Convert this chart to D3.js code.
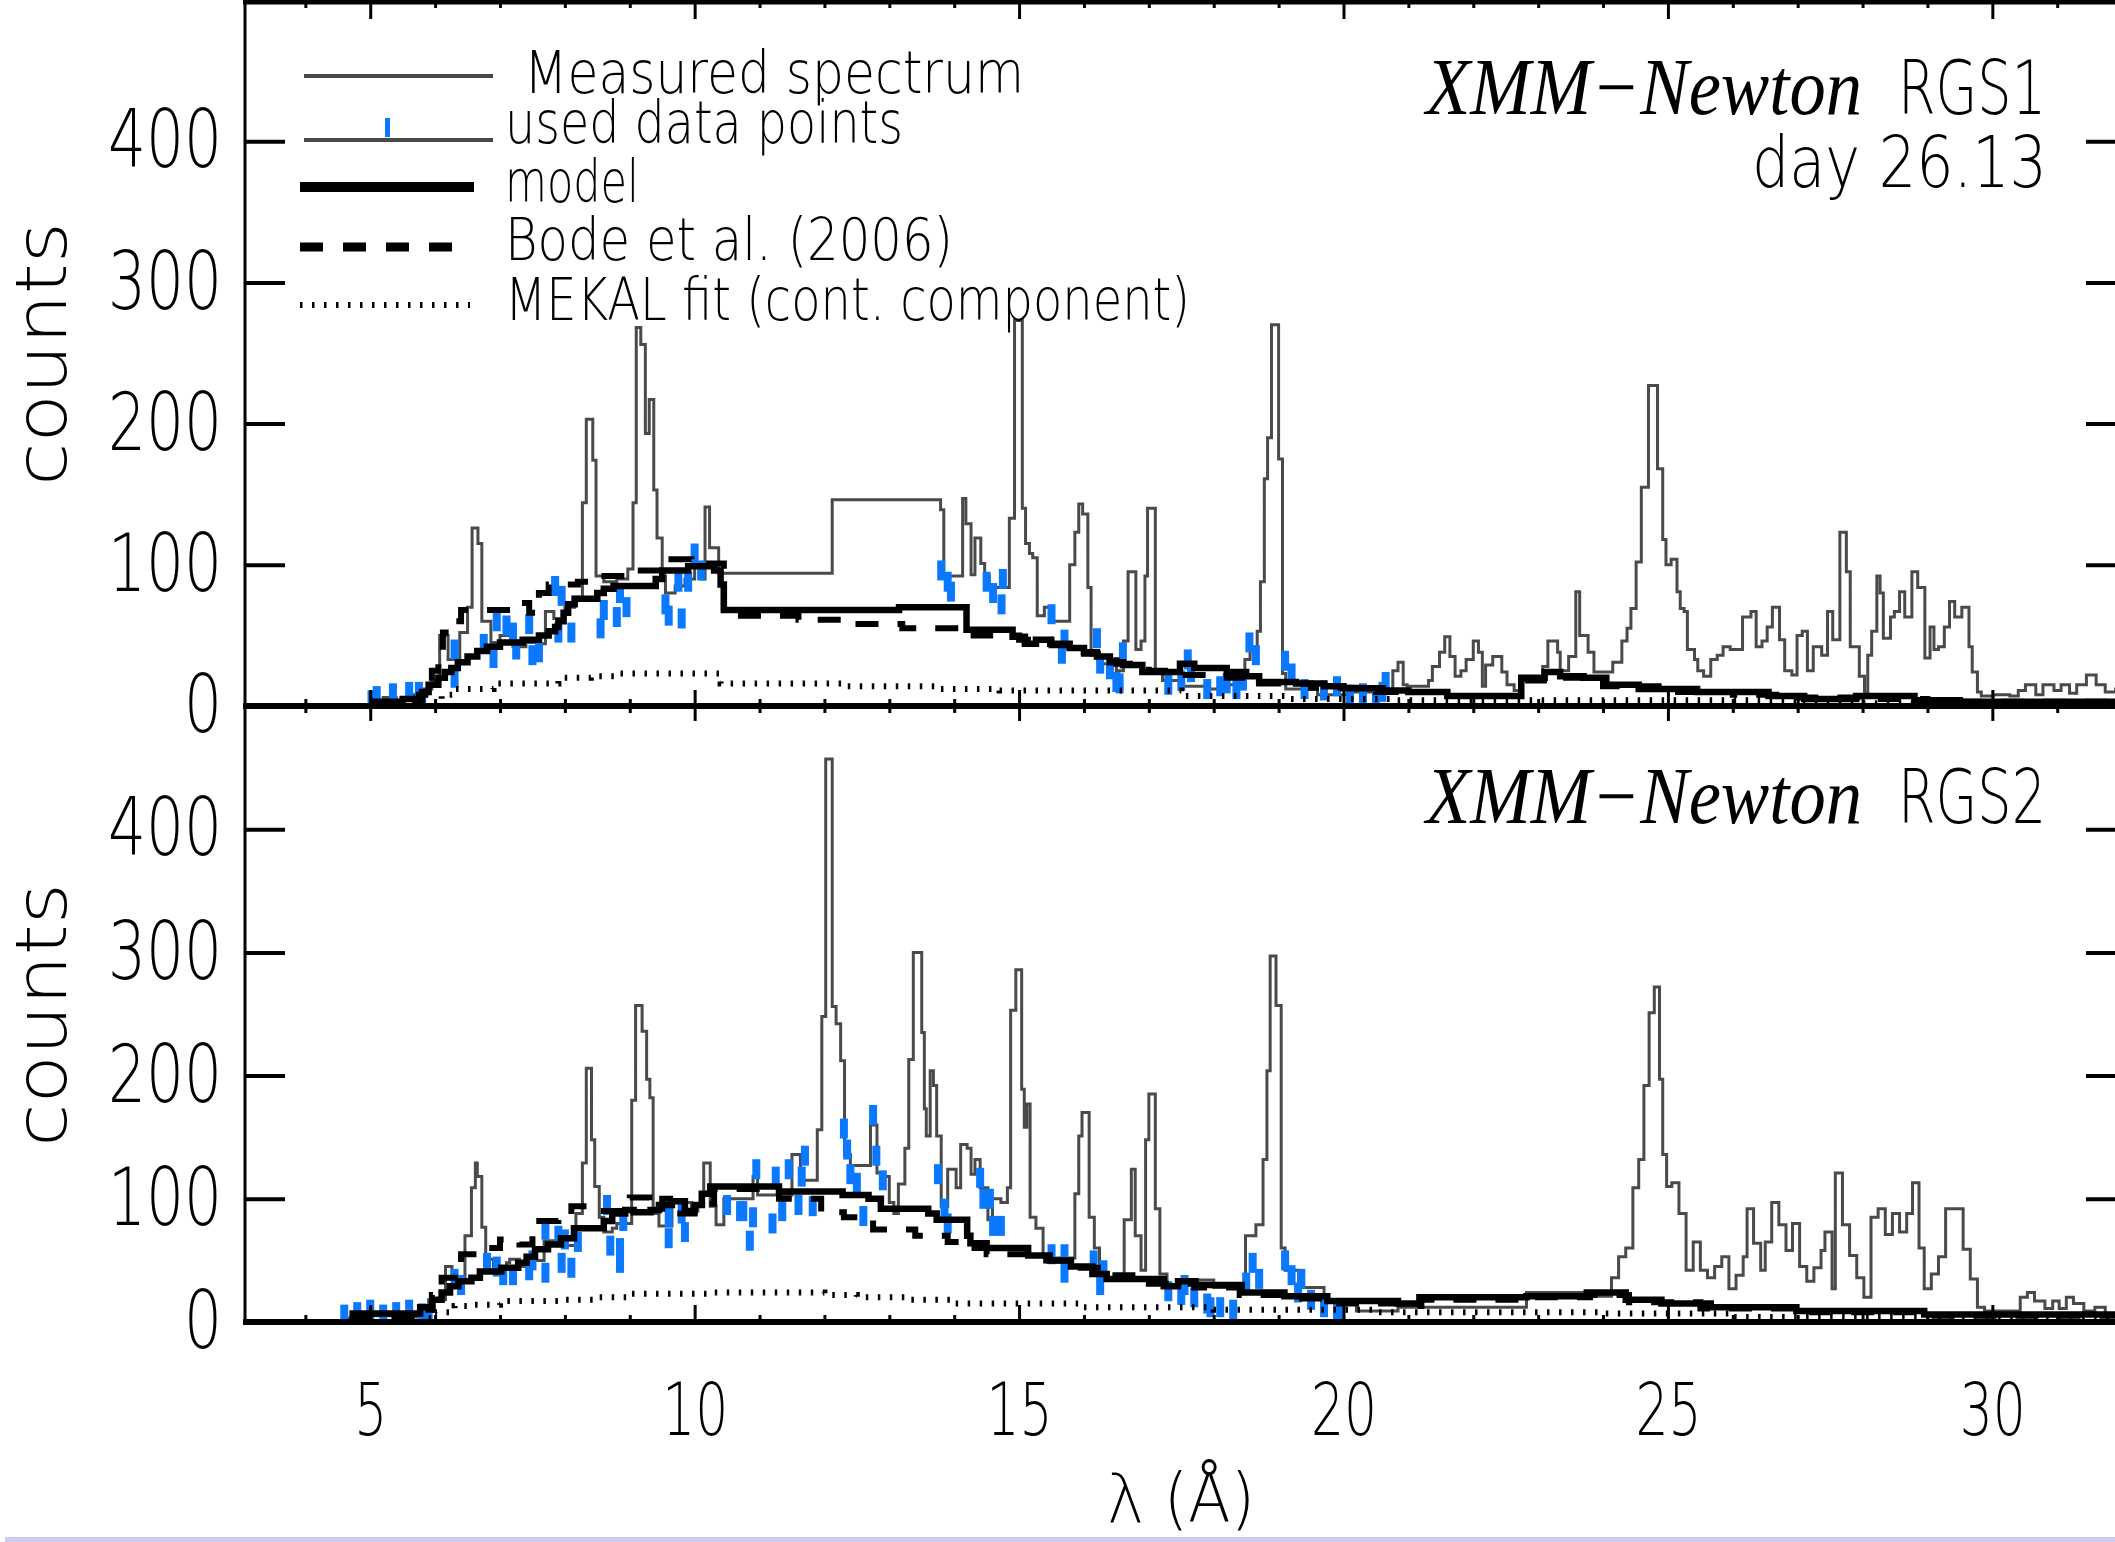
<!DOCTYPE html>
<html>
<head>
<meta charset="utf-8">
<script src="https://cdnjs.cloudflare.com/ajax/libs/d3/7.8.5/d3.min.js"></script>
<style>
  html, body { margin: 0; padding: 0; background: #fff; }
  svg { display: block; }
  text { font-family: "DejaVu Sans", sans-serif; font-weight: 200; fill: #000; }
</style>
</head>
<body>
<div id="chart"></div>
<script>
// [wavelength (A), counts] steps
const rgs1Spectrum = [[4.98,3],[5.2,6],[5.4,4],[5.6,8],[5.8,12],[5.95,18],[6.07,50],[6.2,33],[6.38,52],[6.5,70],[6.57,126],[6.66,115],[6.72,60],[6.86,45],[7.0,50],[7.2,42],[7.4,45],[7.6,44],[7.7,67],[7.83,62],[8.0,70],[8.15,77],[8.27,144],[8.33,203],[8.43,174],[8.48,92],[8.6,88],[8.8,90],[8.97,97],[9.05,144],[9.1,268],[9.17,256],[9.24,193],[9.3,217],[9.37,153],[9.42,119],[9.5,92],[9.55,80],[9.7,85],[9.85,90],[10.0,99],[10.1,90],[10.16,141],[10.23,112],[10.37,94],[12.12,146],[13.79,139],[13.84,92],[14.13,147],[14.18,129],[14.26,93],[14.32,119],[14.41,101],[14.47,92],[14.54,84],[14.85,133],[14.93,273],[15.05,140],[15.1,115],[15.16,108],[15.21,105],[15.28,64],[15.39,70],[15.48,60],[15.78,100],[15.86,123],[15.92,143],[15.98,136],[16.06,84],[16.11,36],[16.22,30],[16.5,25],[16.61,46],[16.68,95],[16.8,40],[16.88,46],[16.94,92],[16.98,140],[17.1,23],[17.21,18],[17.5,14],[17.9,12],[18.2,15],[18.48,33],[18.56,40],[18.67,53],[18.72,88],[18.78,161],[18.83,190],[18.89,270],[19.0,175],[19.06,23],[19.11,12],[19.6,8],[20.1,10],[20.76,25],[20.84,31],[20.92,15],[20.98,14],[21.31,18],[21.37,28],[21.48,38],[21.56,49],[21.64,35],[21.72,21],[21.81,25],[21.89,33],[22.0,46],[22.08,38],[22.14,14],[22.19,29],[22.3,35],[22.44,24],[22.52,15],[22.63,11],[22.74,20],[22.85,18],[23.07,28],[23.15,46],[23.3,38],[23.34,25],[23.47,35],[23.58,81],[23.64,50],[23.77,38],[23.86,24],[24.15,31],[24.29,46],[24.37,55],[24.43,69],[24.51,102],[24.59,155],[24.7,227],[24.84,168],[24.92,118],[24.97,100],[25.05,104],[25.14,81],[25.19,69],[25.25,67],[25.3,40],[25.41,33],[25.46,25],[25.55,21],[25.66,33],[25.76,36],[25.85,42],[25.96,40],[26.15,63],[26.28,67],[26.36,42],[26.45,46],[26.53,56],[26.61,70],[26.72,47],[26.8,25],[26.91,22],[26.99,50],[27.07,53],[27.15,25],[27.24,42],[27.37,36],[27.46,67],[27.54,47],[27.65,123],[27.75,95],[27.81,42],[27.95,21],[28.03,9],[28.08,36],[28.14,53],[28.22,92],[28.27,80],[28.32,48],[28.43,63],[28.49,67],[28.57,81],[28.65,63],[28.76,95],[28.85,84],[28.96,34],[29.04,56],[29.1,40],[29.17,42],[29.26,56],[29.34,74],[29.42,63],[29.53,70],[29.64,42],[29.69,24],[29.77,10],[29.83,7],[30.02,8],[30.27,7],[30.4,11],[30.51,15],[30.67,8],[30.78,15],[30.95,11],[31.06,15],[31.19,9],[31.3,15],[31.45,22],[31.6,15],[31.74,10],[31.9,12],[32.1,12]];
const rgs1Model = [[5.0,3],[5.5,5],[5.8,10],[5.9,15],[6.05,20],[6.15,24],[6.25,27],[6.35,31],[6.5,35],[6.65,39],[6.8,42],[7.0,45],[7.35,47],[7.6,50],[7.75,53],[7.85,56],[7.9,60],[7.98,66],[8.05,72],[8.15,76],[8.5,80],[8.6,83],[8.75,85],[9.4,90],[9.5,96],[9.9,99],[10.3,96],[10.4,86],[10.45,68],[13.15,70],[14.19,54],[14.9,49],[15.09,44],[15.26,47],[15.48,44],[15.78,41],[16.0,38],[16.2,35],[16.4,31],[16.6,29],[16.9,24],[17.48,30],[17.7,27],[18.2,24],[18.5,21],[18.7,17],[19.27,16],[19.7,14],[20.0,12.5],[20.6,11],[21.0,10],[21.6,7],[22.74,20],[23.1,24],[23.34,21],[23.7,20],[24.05,15],[24.55,12],[25.45,10],[26.55,7],[27.1,5],[27.9,7],[28.8,4],[29.5,3],[32.1,3]];
const rgs1Bode = [[5.0,2],[5.75,8],[5.85,15],[5.95,25],[6.05,42],[6.12,52],[6.25,60],[6.4,68],[7.2,73],[7.45,66],[7.6,80],[7.75,86],[8.2,88],[8.5,92],[9.1,96],[9.5,104],[9.95,101],[10.45,64],[11.6,61],[12.4,58],[13.2,55],[14.1,53],[14.3,50],[15.0,47],[15.5,43],[16.0,37],[16.5,30],[17.0,25],[17.5,22],[18.2,20],[18.7,16],[19.5,13],[20.5,10],[21.5,7],[22.8,18],[23.3,20],[24.0,14],[25.0,10],[26.0,8],[27.0,6],[28.0,5],[29.0,3],[32.1,3]];
const rgs1Mekal = [[5.8,2],[6.1,8],[6.3,12],[6.9,16],[7.9,20],[8.4,21],[8.85,23],[10.4,16],[12.3,14],[13.7,12],[14.7,11],[17.5,7],[19.1,5],[20.8,4],[27.0,2],[32.1,2]];
const rgs1Used = [[5.02,4],[5.1,7],[5.35,9],[5.6,10],[5.75,10],[5.8,3],[6.3,20],[6.3,40],[6.75,44],[6.9,34],[6.95,60],[7.1,57],[7.2,52],[7.25,40],[7.45,58],[7.5,36],[7.6,38],[7.85,85],[7.9,52],[7.95,78],[8.1,52],[8.55,55],[8.6,68],[8.8,63],[8.85,80],[8.95,70],[9.55,72],[9.6,64],[9.75,88],[9.8,62],[9.9,88],[10.0,108],[10.1,96],[13.8,96],[13.9,88],[13.95,81],[14.5,88],[14.6,80],[14.73,72],[14.75,90],[15.5,65],[15.66,37],[15.7,47],[16.2,48],[16.25,30],[16.4,26],[16.5,17],[16.55,16],[16.6,38],[17.3,15],[17.5,18],[17.6,33],[17.65,24],[17.9,12],[18.1,14],[18.2,16],[18.35,12],[18.45,18],[18.55,45],[18.65,36],[19.1,32],[19.2,23],[19.4,12],[19.7,11],[19.9,14],[20.1,8],[20.3,9],[20.5,6],[20.6,10],[20.65,17]];

const rgs2Spectrum = [[4.6,3],[5.0,5],[5.5,4],[5.9,18],[6.16,45],[6.26,36],[6.46,70],[6.56,109],[6.62,129],[6.65,118],[6.72,77],[6.78,51],[6.9,45],[7.1,48],[7.15,51],[7.3,45],[7.5,50],[7.68,66],[7.87,62],[8.17,88],[8.27,129],[8.33,206],[8.41,148],[8.46,110],[8.53,85],[8.6,73],[8.73,76],[8.8,80],[9.03,180],[9.09,257],[9.19,236],[9.26,197],[9.31,182],[9.36,88],[9.45,78],[9.65,97],[9.95,90],[10.05,94],[10.14,129],[10.24,94],[10.33,79],[10.45,100],[10.9,118],[10.97,103],[11.5,136],[11.63,115],[11.89,156],[11.96,248],[12.02,457],[12.12,256],[12.18,242],[12.25,212],[12.31,136],[12.4,127],[12.71,160],[12.81,121],[12.87,118],[13.0,97],[13.07,88],[13.14,112],[13.24,141],[13.3,213],[13.37,300],[13.5,235],[13.54,173],[13.57,151],[13.63,204],[13.68,192],[13.73,151],[13.8,94],[13.9,124],[14.03,109],[14.1,144],[14.2,141],[14.26,120],[14.32,132],[14.4,109],[14.52,83],[14.59,100],[14.72,97],[14.82,109],[14.87,253],[14.95,286],[15.04,189],[15.08,158],[15.12,177],[15.17,85],[15.26,76],[15.37,54],[15.5,52],[15.86,104],[15.92,151],[15.97,170],[16.08,85],[16.16,60],[16.24,35],[16.62,83],[16.73,124],[16.79,70],[16.88,42],[16.95,148],[17.0,185],[17.1,92],[17.17,39],[17.28,30],[17.6,34],[18.0,28],[18.49,70],[18.65,79],[18.76,132],[18.82,204],[18.87,297],[18.96,257],[19.04,60],[19.1,42],[19.31,28],[19.7,18],[20.2,9],[20.84,12],[22.82,24],[23.8,21],[24.13,36],[24.24,53],[24.35,60],[24.46,109],[24.55,132],[24.63,192],[24.71,251],[24.79,272],[24.87,197],[24.92,136],[24.98,110],[25.06,113],[25.17,88],[25.28,42],[25.39,65],[25.5,42],[25.61,36],[25.72,45],[25.83,53],[25.94,27],[26.05,38],[26.16,53],[26.22,92],[26.32,64],[26.43,42],[26.5,65],[26.6,97],[26.71,79],[26.82,58],[26.92,80],[27.03,45],[27.14,33],[27.25,44],[27.36,58],[27.42,73],[27.53,27],[27.58,121],[27.69,79],[27.8,54],[27.91,36],[28.02,20],[28.13,85],[28.24,92],[28.35,71],[28.46,88],[28.57,73],[28.68,88],[28.77,113],[28.87,60],[28.95,27],[29.06,39],[29.17,53],[29.28,92],[29.55,59],[29.66,35],[29.77,12],[29.88,9],[30.43,20],[30.54,24],[30.65,17],[30.81,11],[30.93,17],[31.03,11],[31.14,20],[31.25,15],[31.41,9],[31.58,12],[31.74,6],[32.1,6]];
const rgs2Model = [[4.68,7],[5.77,12],[5.96,18],[6.1,24],[6.23,29],[6.36,33],[6.56,36],[6.69,41],[7.02,44],[7.28,48],[7.41,53],[7.54,59],[7.74,63],[7.94,68],[8.14,76],[8.6,82],[8.73,88],[8.93,91],[9.06,89],[9.32,91],[9.45,95],[9.65,98],[9.85,90],[10.0,95],[10.11,104],[10.24,110],[11.3,106],[12.28,103],[12.68,100],[12.87,92],[13.6,88],[13.73,83],[14.2,70],[14.25,64],[14.5,60],[15.14,54],[15.47,50],[15.8,45],[16.13,39],[16.35,35],[17.23,29],[17.45,33],[17.72,30],[18.43,24],[19.09,21],[19.75,17],[20.84,15],[21.17,20],[22.82,21],[23.75,24],[24.35,18],[24.9,15],[25.66,12],[26.98,9],[28.95,6],[32.1,6]];
const rgs2Bode = [[4.68,3],[5.85,10],[5.95,22],[6.1,36],[6.4,55],[6.65,60],[7.0,67],[7.3,63],[7.5,82],[7.9,85],[8.1,94],[8.6,90],[9.0,101],[9.3,92],[9.5,100],[9.7,88],[10.0,96],[10.3,108],[11.3,100],[11.95,89],[12.3,85],[12.75,75],[13.4,70],[13.9,65],[14.2,60],[14.5,55],[15.2,50],[15.8,44],[16.3,38],[17.0,31],[17.7,28],[18.4,22],[19.1,19],[19.8,15],[21.0,13],[21.2,18],[22.8,20],[23.8,22],[24.4,16],[25.5,11],[27.0,8],[29.0,5],[32.1,5]];
const rgs2Mekal = [[5.9,3],[6.0,8],[6.3,13],[6.6,14],[7.0,17],[8.0,18],[8.5,20],[9.0,23],[10.3,24],[12.0,22],[12.5,20],[13.3,18],[14.0,15],[16.0,12],[18.0,10],[20.5,8],[24.0,7],[26.0,4],[32.1,4]];
const rgs2Used = [[4.6,6],[4.8,8],[5.0,10],[5.2,6],[5.4,8],[5.6,10],[5.8,7],[5.9,3],[6.3,35],[6.4,30],[6.8,48],[6.95,45],[7.05,38],[7.2,38],[7.45,42],[7.5,50],[7.7,40],[7.7,75],[7.9,70],[7.95,48],[8.0,67],[8.1,44],[8.2,65],[8.65,95],[8.7,62],[8.85,60],[8.85,48],[8.9,82],[9.6,85],[9.6,68],[9.8,88],[9.85,73],[10.5,95],[10.7,90],[10.75,90],[10.85,66],[10.9,85],[10.95,124],[11.2,80],[11.25,118],[11.35,90],[11.45,124],[11.6,95],[11.65,118],[11.7,135],[11.82,94],[12.3,157],[12.35,140],[12.4,120],[12.5,113],[12.6,86],[12.75,168],[12.8,135],[12.9,115],[13.75,120],[13.85,92],[13.9,80],[14.4,117],[14.45,100],[14.55,100],[14.6,78],[14.72,78],[15.5,55],[15.7,55],[15.7,40],[16.15,50],[16.25,30],[16.3,42],[17.3,25],[17.5,22],[17.55,30],[17.7,20],[17.9,15],[17.95,12],[18.1,12],[18.3,10],[18.5,32],[18.6,48],[18.7,35],[19.1,50],[19.2,38],[19.3,24],[19.35,35],[19.5,18],[19.7,12],[19.9,8],[19.95,7]];

const majorTicks = [5, 10, 15, 20, 25, 30];
const minorTicks = [4, 6, 7, 8, 9, 11, 12, 13, 14, 16, 17, 18, 19, 21, 22, 23, 24, 26, 27, 28, 29, 31, 32];
const countTicks = [0, 100, 200, 300, 400];
const legendLabels = ["Measured spectrum", "used data points", "model", "Bode et al. (2006)", "MEKAL fit (cont. component)"];

const W = 2115, H = 1542;
const GRAY = "#4a4a4a", BLUE = "#0a78ff";

const svg = d3.select("#chart").append("svg").attr("width", W).attr("height", H);
svg.append("rect").attr("width", W).attr("height", H).attr("fill", "#fff");

const x = d3.scaleLinear().domain([3.07, 32.06]).range([245, 2126]);

const panels = [
  { id: "p1", y: d3.scaleLinear().domain([0, 500]).range([706, 0]),
    spectrum: rgs1Spectrum, model: rgs1Model, bode: rgs1Bode, mekal: rgs1Mekal, used: rgs1Used, countsY: 354 },
  { id: "p2", y: d3.scaleLinear().domain([0, 500]).range([1322, 706]),
    spectrum: rgs2Spectrum, model: rgs2Model, bode: rgs2Bode, mekal: rgs2Mekal, used: rgs2Used, countsY: 1015 }
];

const defs = svg.append("defs");

panels.forEach(p => {
  const [y0, y1] = p.y.range();
  defs.append("clipPath").attr("id", "clip-" + p.id)
    .append("rect").attr("x", x.range()[0]).attr("y", y1)
    .attr("width", x.range()[1] - x.range()[0]).attr("height", y0 - y1);

  const g = svg.append("g").attr("clip-path", `url(#clip-${p.id})`);
  const line = d3.line().x(d => x(d[0])).y(d => p.y(d[1])).curve(d3.curveStepAfter);

  g.append("path").datum(p.spectrum).attr("d", line)
    .attr("fill", "none").attr("stroke", GRAY).attr("stroke-width", 3);

  g.selectAll("rect.used").data(p.used).enter().append("rect")
    .attr("class", "used")
    .attr("x", d => x(d[0]) - 4).attr("y", d => p.y(d[1]) - 10)
    .attr("width", 8).attr("height", 20).attr("fill", BLUE);

  g.append("path").datum(p.mekal).attr("d", line)
    .attr("fill", "none").attr("stroke", "#000").attr("stroke-width", 6)
    .attr("stroke-dasharray", "2.5,9.5");

  g.append("path").datum(p.bode).attr("d", line)
    .attr("fill", "none").attr("stroke", "#000").attr("stroke-width", 6)
    .attr("stroke-dasharray", "23,19");

  g.append("path").datum(p.model).attr("d", line)
    .attr("fill", "none").attr("stroke", "#000").attr("stroke-width", 6.5);

  // y axes, ticks pointing inward
  svg.append("g").attr("transform", `translate(${x.range()[0]},0)`)
    .call(d3.axisLeft(p.y).tickValues(countTicks).tickSize(-40).tickPadding(23))
    .call(a => a.select(".domain").remove())
    .call(a => a.selectAll("line").attr("stroke-width", 4))
    .call(a => a.selectAll("text")
      .attr("font-size", 80).attr("font-family", null)
      .attr("textLength", d => String(d).length * 38).attr("lengthAdjust", "spacingAndGlyphs"));

  svg.append("g").attr("transform", `translate(${x.range()[1]},0)`)
    .call(d3.axisRight(p.y).tickValues(countTicks).tickSize(-40).tickFormat(""))
    .call(a => a.select(".domain").remove())
    .call(a => a.selectAll("line").attr("stroke-width", 4));

  svg.append("text").attr("transform", `translate(66,${p.countsY}) rotate(-90)`)
    .attr("text-anchor", "middle").attr("font-size", 71)
    .attr("textLength", 264).attr("lengthAdjust", "spacingAndGlyphs")
    .text("counts");
});

// x ticks on the frame lines
function xTicks(yPos, axisFn, major, minor, labels) {
  const gMaj = svg.append("g").attr("transform", `translate(0,${yPos})`)
    .call(axisFn(x).tickValues(majorTicks).tickSize(major).tickPadding(61).tickFormat(labels ? d3.format("d") : ""))
    .call(a => a.select(".domain").remove())
    .call(a => a.selectAll("line").attr("stroke-width", 3));
  if (labels) {
    gMaj.selectAll("text").attr("font-size", 73).attr("font-family", null)
      .attr("textLength", d => String(d).length * 33).attr("lengthAdjust", "spacingAndGlyphs");
  }
  svg.append("g").attr("transform", `translate(0,${yPos})`)
    .call(axisFn(x).tickValues(minorTicks).tickSize(minor).tickFormat(""))
    .call(a => a.select(".domain").remove())
    .call(a => a.selectAll("line").attr("stroke-width", 3));
}
xTicks(0, d3.axisTop, -19, -8, false);
xTicks(706, d3.axisBottom, -16, -7, false);
xTicks(706, d3.axisTop, -15, -7, false);
xTicks(1322, d3.axisBottom, -17, -7, true);

// frame
const frame = svg.append("g").attr("stroke", "#000");
frame.append("line").attr("x1", 245).attr("x2", 245).attr("y1", 0).attr("y2", 1325).attr("stroke-width", 3);
frame.append("line").attr("x1", 2126).attr("x2", 2126).attr("y1", 0).attr("y2", 1325).attr("stroke-width", 3);
frame.append("line").attr("x1", 243).attr("x2", 2130).attr("y1", 2).attr("y2", 2).attr("stroke-width", 5);
frame.append("line").attr("x1", 243).attr("x2", 2130).attr("y1", 706).attr("y2", 706).attr("stroke-width", 6);
frame.append("line").attr("x1", 243).attr("x2", 2130).attr("y1", 1322).attr("y2", 1322).attr("stroke-width", 6);

// x axis title
svg.append("text").attr("x", 1181).attr("y", 1522).attr("text-anchor", "middle")
  .attr("font-size", 68).attr("textLength", 148).attr("lengthAdjust", "spacingAndGlyphs")
  .text("λ (Å)");

// legend
const lg = svg.append("g");
lg.append("line").attr("x1", 304).attr("x2", 493).attr("y1", 76).attr("y2", 76).attr("stroke", GRAY).attr("stroke-width", 4);
lg.append("line").attr("x1", 304).attr("x2", 493).attr("y1", 140).attr("y2", 140).attr("stroke", GRAY).attr("stroke-width", 4);
lg.append("rect").attr("x", 385).attr("y", 118).attr("width", 5).attr("height", 19).attr("fill", BLUE);
lg.append("line").attr("x1", 300).attr("x2", 474).attr("y1", 187).attr("y2", 187).attr("stroke", "#000").attr("stroke-width", 10);
lg.append("line").attr("x1", 300).attr("x2", 452).attr("y1", 247).attr("y2", 247).attr("stroke", "#000").attr("stroke-width", 9).attr("stroke-dasharray", "23,20");
lg.append("line").attr("x1", 300).attr("x2", 470).attr("y1", 305).attr("y2", 305).attr("stroke", "#000").attr("stroke-width", 6).attr("stroke-dasharray", "2.5,9.5");

const legendPos = [[524, 93, 500], [505, 143, 398], [505, 202, 134], [505, 260, 448], [505, 320, 685]];
lg.selectAll("text.leg").data(legendLabels).enter().append("text")
  .attr("class", "leg")
  .attr("x", (d, i) => legendPos[i][0]).attr("y", (d, i) => legendPos[i][1])
  .attr("font-size", 58)
  .attr("textLength", (d, i) => legendPos[i][2]).attr("lengthAdjust", "spacingAndGlyphs")
  .text(d => d);

// instrument labels
function instrument(baseline, name) {
  svg.append("text").attr("x", 1426).attr("y", baseline)
    .attr("font-size", 80).style("font-family", "'Liberation Serif', serif").style("font-style", "italic").style("font-weight", "normal")
    .attr("textLength", 436).attr("lengthAdjust", "spacingAndGlyphs")
    .text("XMM\u2212Newton");
  svg.append("text").attr("x", 1898).attr("y", baseline)
    .attr("font-size", 75).attr("textLength", 148).attr("lengthAdjust", "spacingAndGlyphs")
    .text(name);
}
instrument(114, "RGS1");
instrument(823, "RGS2");
svg.append("text").attr("x", 2047).attr("y", 187).attr("text-anchor", "end")
  .attr("font-size", 72).attr("textLength", 295).attr("lengthAdjust", "spacingAndGlyphs")
  .text("day 26.13");

// strip at the bottom of the page
svg.append("rect").attr("x", 5).attr("y", 1537).attr("width", W - 5).attr("height", 5).attr("fill", "#ccccf7");
</script>
</body>
</html>
